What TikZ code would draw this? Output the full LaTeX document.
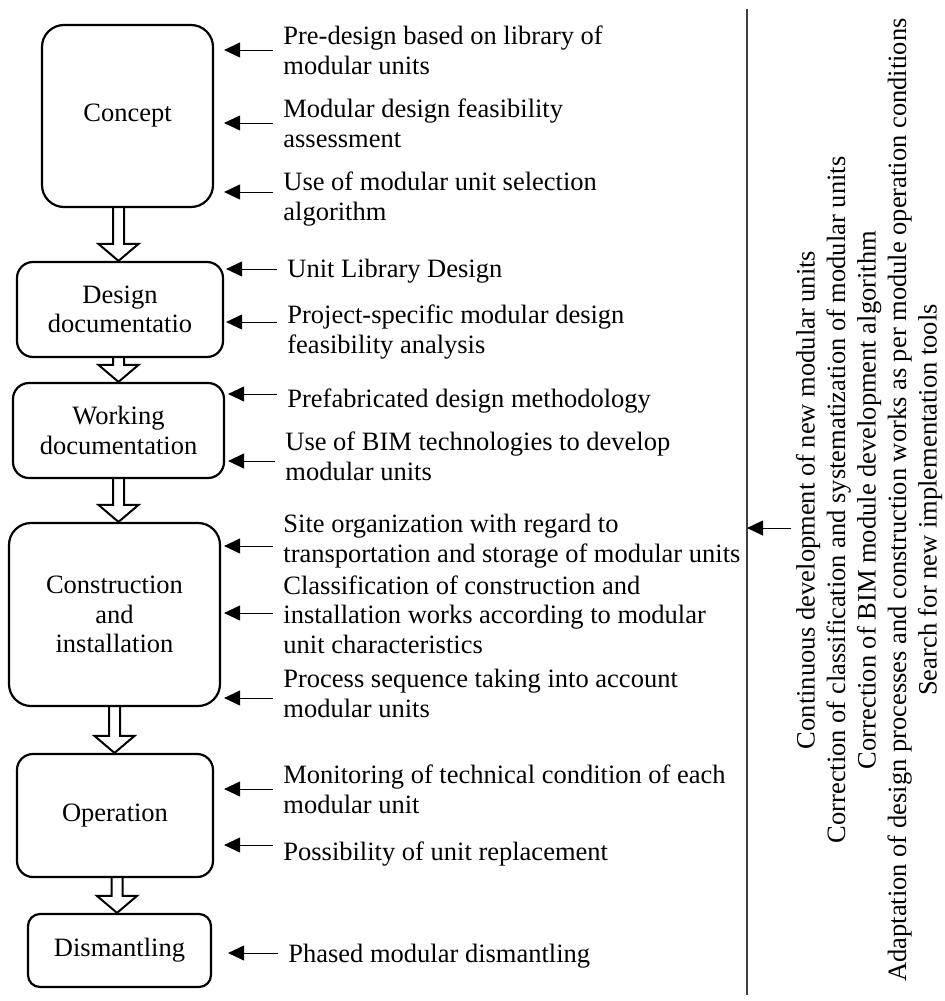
\documentclass[tikz,border=0pt]{standalone}
\usepackage{fontspec}
\setmainfont{Liberation Serif}
\usetikzlibrary{arrows.meta}
\usetikzlibrary{calc}

\tikzset{
  stage/.style={draw, line width=1.1pt, rounded corners=8pt, align=center, inner sep=0pt,
    font=\fontsize{13.25}{14.75}\selectfont},
  item/.style={anchor=base west, align=left, inner sep=0pt,
    font=\fontsize{13.25}{14.75}\selectfont},
  feed/.style={line width=0.5pt, -{Triangle[length=8pt,width=7.5pt]}, shorten <=5pt},
  hollow/.style={line width=1pt, line join=miter},
}

\begin{document}
\begin{tikzpicture}[x=0.5pt,y=-0.5pt]
    \useasboundingbox (0,0) rectangle (945,1001);

    % stages
    \node[stage, minimum width=85.5pt, minimum height=91pt, rounded corners=11pt] (concept) at (127.5,116) {Concept};
    \node[stage, minimum width=103pt, minimum height=47.5pt] (design) at (120,309.5) {Design\\documentatio};
    \node[stage, minimum width=105.5pt, minimum height=47.5pt] (working) at (118.5,430.5) {Working\\documentation};
    \node[stage, minimum width=105.5pt, minimum height=91.5pt, rounded corners=11pt] (constr) at (114.5,614.5) {Construction\\and\\installation};
    \node[stage, minimum width=98pt, minimum height=61.5pt] (oper) at (115,815.5) {Operation};
    \node[stage, minimum width=91.5pt, minimum height=36.5pt, rounded corners=6pt] (dism) at (119.5,950.5) {Dismantling};

    \foreach \up/\dn/\cx in {concept/design/118.5, design/working/118.5, working/constr/118.5, constr/oper/114.5, oper/dism/117}
      \draw[hollow] let \p1=(\up.south), \p2=(\dn.north), \p3=(\cx,0) in
        (\x3-2.75pt,\y1) -- (\x3-2.75pt,\y2+8.5pt) -- (\x3-10pt,\y2+8.5pt) -- (\x3,\y2)
        -- (\x3+10pt,\y2+8.5pt) -- (\x3+2.75pt,\y2+8.5pt) -- (\x3+2.75pt,\y1);

    % measures (placed at the baseline of their last line)
    \node[item] (pre) at (283,74) {Pre-design based on library of\\modular units};
    \node[item] (feas) at (283,147) {Modular design feasibility\\assessment};
    \node[item] (sel) at (283,220) {Use of modular unit selection\\algorithm};
    \node[item] (lib) at (287,277) {Unit Library Design};
    \node[item] (proj) at (287,353) {Project-specific modular design\\feasibility analysis};
    \node[item] (prefab) at (287,407) {Prefabricated design methodology};
    \node[item] (bim) at (285,480) {Use of BIM technologies to develop\\modular units};
    \node[item] (site) at (283,562) {Site organization with regard to\\transportation and storage of modular units};
    \node[item] (class) at (283,653) {Classification of construction and\\installation works according to modular\\unit characteristics};
    \node[item] (seq) at (283,717) {Process sequence taking into account\\modular units};
    \node[item] (mon) at (283,813) {Monitoring of technical condition of each\\modular unit};
    \node[item] (repl) at (283,860) {Possibility of unit replacement};
    \node[item] (phase) at (288,962) {Phased modular dismantling};

    \foreach \t/\b/\dy/\gap in {pre/concept/-24/5pt, feas/concept/-24/5pt, sel/concept/-28/5pt,
        lib/design/-8/1pt, proj/design/-31/1pt, prefab/working/-13/1.5pt, bim/working/-19/1.5pt,
        site/constr/-16/1.5pt, class/constr/-40/1.5pt, seq/constr/-19/1.5pt,
        mon/oper/-24/5pt, repl/oper/-15/5pt, phase/dism/-9/8pt}
    {
      \coordinate (s) at ($(\t.base west)+(0,\dy)$);
      \draw[feed, shorten >=\gap] (s) -- (s -| \b.east);
    }

    % feedback side
    \coordinate (vtop) at (747,9);
    \coordinate (vbot) at (747,995);
    \draw[line width=0.9pt, black!75] (vtop) -- (vbot);

    \node[rotate=90, align=center, inner sep=0pt, font=\fontsize{13.25}{15.25}\selectfont] (notes) at (869,500)
      {Continuous development of new modular units\\
       Correction of classification and systematization of modular units\\
       Correction of BIM module development algorithm\\
       Adaptation of design processes and construction works as per module operation conditions\\
       Search for new implementation tools};
    \coordinate (fb) at ($(notes.north)+(0,28)$);
    \draw[feed, shorten <=2pt] (fb) -- (fb -| vtop);
\end{tikzpicture}
\end{document}
